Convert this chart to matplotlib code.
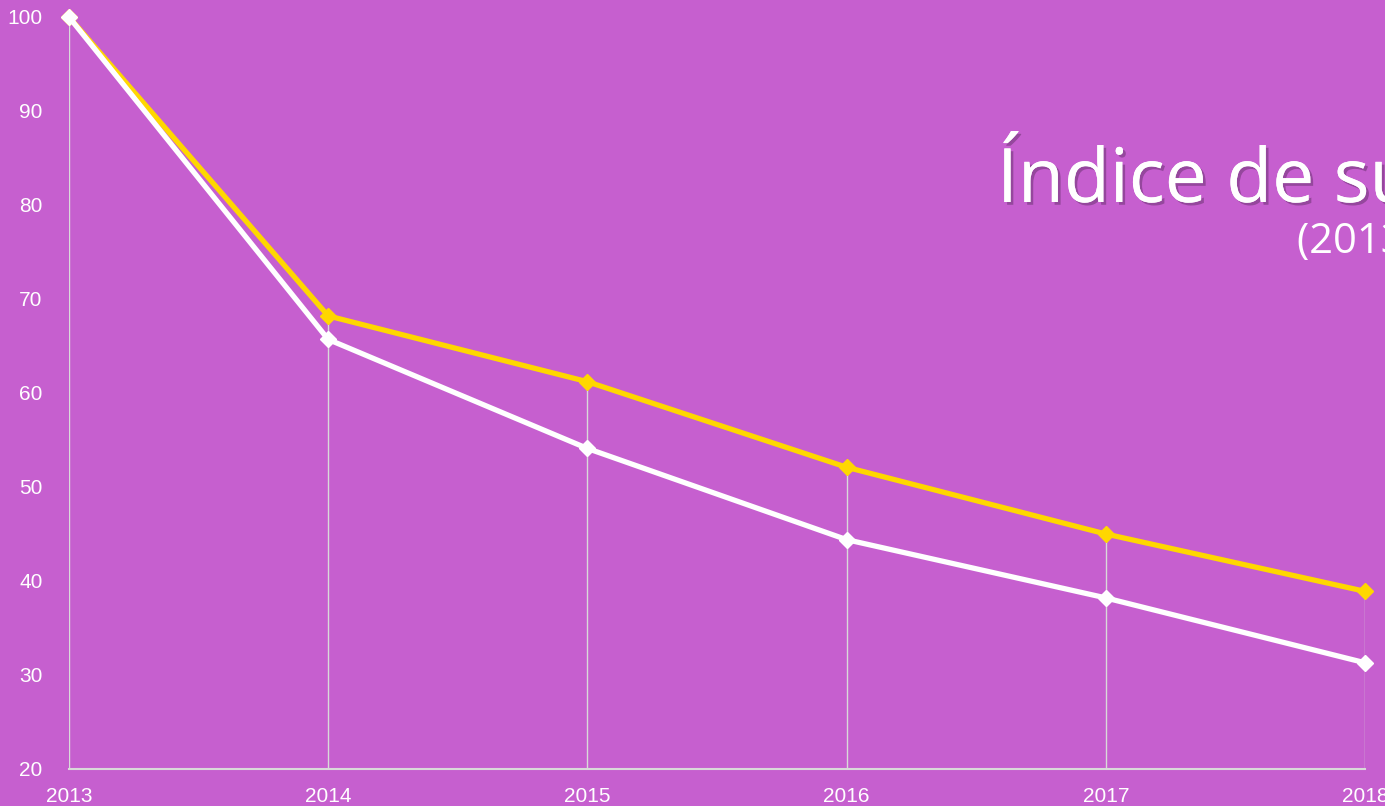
import matplotlib
matplotlib.use("Agg")
import matplotlib.pyplot as plt
import matplotlib.patheffects as pe

years = [2013, 2014, 2015, 2016, 2017, 2018]
serie_amarilla = [100, 68.2, 61.2, 52.1, 45.0, 38.9]
serie_blanca = [100, 65.7, 54.1, 44.4, 38.2, 31.3]
yticks = [20, 30, 40, 50, 60, 70, 80, 90, 100]
titulo = "Índice de supervivencia"
subtitulo = "(2013 = 100)"

bg = "#C65FCF"
W, H = 1385, 806
fig = plt.figure(figsize=(W / 100, H / 100), dpi=100, facecolor=bg)
ax = fig.add_axes([69 / W, 1 - 769 / H, (1365 - 69) / W, (769 - 17) / H])
ax.set_facecolor(bg)

# drop lines
for x, a, b in zip(years, serie_amarilla, serie_blanca):
    ax.plot([x, x], [20, max(a, b)], color="#D9D9D9", lw=1.0, zorder=1)

ax.plot(years, serie_amarilla, color="#FFD700", lw=3.8, marker="D", ms=8,
        clip_on=False, zorder=3)
ax.plot(years, serie_blanca, color="white", lw=3.8, marker="D", ms=8,
        clip_on=False, zorder=4)

ax.set_xlim(2013, 2018)
ax.set_ylim(20, 100)
ax.set_xticks(years)
ax.set_yticks(yticks)
for s in ["top", "right", "left"]:
    ax.spines[s].set_visible(False)
ax.spines["bottom"].set_color("#D9D9D9")
ax.spines["bottom"].set_linewidth(1.5)
ax.tick_params(length=0, colors="white", labelsize=15)
ax.tick_params(axis="y", pad=19)
ax.tick_params(axis="x", pad=13)
for lab in ax.get_xticklabels() + ax.get_yticklabels():
    lab.set_family(["Liberation Sans Narrow", "Liberation Sans"])
    lab.set_color("white")

shadow = [pe.withSimplePatchShadow(offset=(2, -2), shadow_rgbFace="#5a2a60", alpha=0.45), pe.Normal()]
fig.text(997 / W, 1 - 202 / H, titulo, fontsize=54, color="white",
         family="Open Sans", ha="left", va="baseline", path_effects=shadow)
fig.text(1297 / W, 1 - 253 / H, subtitulo, fontsize=30, color="white",
         family="Open Sans", ha="left", va="baseline")

fig.savefig("out.png", dpi=100, facecolor=bg)
